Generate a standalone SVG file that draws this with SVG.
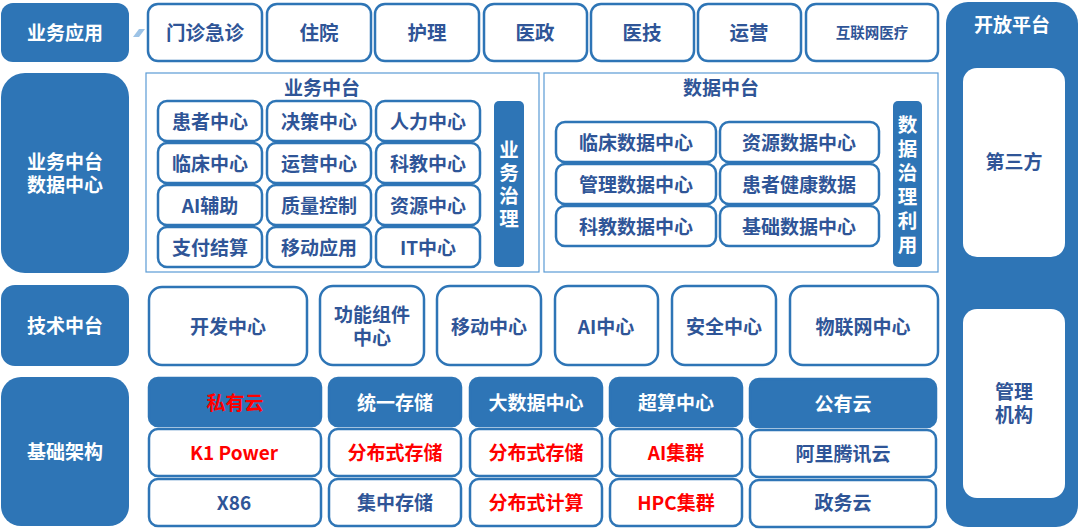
<svg xmlns="http://www.w3.org/2000/svg" width="1080" height="530" viewBox="0 0 1080 530">
<style>
text{font-family:"Noto Sans CJK SC","Noto Sans",sans-serif;font-weight:bold;text-anchor:middle;dominant-baseline:central;transform:translateY(-1.5px)}
text.ml{font-family:"Liberation Sans","Noto Sans CJK SC",sans-serif;transform:translateY(0.2px)}
.cat{fill:#2E75B6}
.catT{fill:#fff;font-size:19px}
.box{fill:#fff;stroke:#2E75B6;stroke-width:2.5}
.hdr{fill:#2E75B6;stroke:#2E75B6;stroke-width:2.5}
.bt{fill:#2F5597;font-size:19.5px}
.st{fill:#2F5597;font-size:19px}
.rt{fill:#FF0000;font-size:19px}
.wt{fill:#fff;font-size:19px}
.panel{fill:#fff;stroke:#5B9BD5;stroke-width:1.2}
.pt{fill:#2F5597;font-size:19px}
.vbar{fill:#2E75B6}
.vt{fill:#fff;font-size:19.5px;writing-mode:vertical-rl;transform:none}
</style>
<rect width="1080" height="530" fill="#fff"/>

<g id="connectors">
<polygon points="133,37 139,29 145,29 139,37" fill="#9DC3E6"/>
</g>

<!-- left categories -->
<g id="cat-app"><rect class="cat" x="1" y="3" width="128" height="59" rx="12"/><text class="catT" x="65" y="33">业务应用</text></g>
<g id="cat-mid"><rect class="cat" x="1" y="73" width="128" height="200" rx="24"/><text class="catT ml" x="65" y="162">业务中台</text><text class="catT ml" x="65" y="185">数据中心</text></g>
<g id="cat-tech"><rect class="cat" x="1" y="285" width="128" height="81" rx="14"/><text class="catT" x="65" y="326">技术中台</text></g>
<g id="cat-infra"><rect class="cat" x="1" y="377" width="128" height="149" rx="20"/><text class="catT" x="65" y="452">基础架构</text></g>

<!-- top row -->
<g id="app-1"><rect class="box" x="148" y="4" width="114" height="57" rx="10"/><text class="bt" x="205" y="33">门诊急诊</text></g>
<g id="app-2"><rect class="box" x="267" y="4" width="104" height="57" rx="10"/><text class="bt" x="319" y="33">住院</text></g>
<g id="app-3"><rect class="box" x="375" y="4" width="104" height="57" rx="10"/><text class="bt" x="427" y="33">护理</text></g>
<g id="app-4"><rect class="box" x="484" y="4" width="103" height="57" rx="10"/><text class="bt" x="535" y="33">医政</text></g>
<g id="app-5"><rect class="box" x="591" y="4" width="103" height="57" rx="10"/><text class="bt" x="642" y="33">医技</text></g>
<g id="app-6"><rect class="box" x="698" y="4" width="103" height="57" rx="10"/><text class="bt" x="749" y="33">运营</text></g>
<g id="app-7"><rect class="box" x="806" y="4" width="132" height="57" rx="10"/><text class="bt" x="872" y="33" style="font-size:14.5px">互联网医疗</text></g>

<!-- business middle platform -->
<g id="biz-panel">
<rect class="panel" x="146" y="73" width="393" height="199"/>
<text class="pt" x="322" y="88">业务中台</text>
</g>
<g id="biz-1"><rect class="box" x="158" y="101" width="104" height="40" rx="9"/><text class="st" x="210" y="122">患者中心</text></g>
<g id="biz-2"><rect class="box" x="267" y="101" width="104" height="40" rx="9"/><text class="st" x="319" y="122">决策中心</text></g>
<g id="biz-3"><rect class="box" x="376" y="101" width="104" height="40" rx="9"/><text class="st" x="428" y="122">人力中心</text></g>
<g id="biz-4"><rect class="box" x="158" y="143" width="104" height="40" rx="9"/><text class="st" x="210" y="164">临床中心</text></g>
<g id="biz-5"><rect class="box" x="267" y="143" width="104" height="40" rx="9"/><text class="st" x="319" y="164">运营中心</text></g>
<g id="biz-6"><rect class="box" x="376" y="143" width="104" height="40" rx="9"/><text class="st" x="428" y="164">科教中心</text></g>
<g id="biz-7"><rect class="box" x="158" y="185" width="104" height="40" rx="9"/><text class="st" x="210" y="206">AI辅助</text></g>
<g id="biz-8"><rect class="box" x="267" y="185" width="104" height="40" rx="9"/><text class="st" x="319" y="206">质量控制</text></g>
<g id="biz-9"><rect class="box" x="376" y="185" width="104" height="40" rx="9"/><text class="st" x="428" y="206">资源中心</text></g>
<g id="biz-10"><rect class="box" x="158" y="227" width="104" height="40" rx="9"/><text class="st" x="210" y="248">支付结算</text></g>
<g id="biz-11"><rect class="box" x="267" y="227" width="104" height="40" rx="9"/><text class="st" x="319" y="248">移动应用</text></g>
<g id="biz-12"><rect class="box" x="376" y="227" width="104" height="40" rx="9"/><text class="st" x="428" y="248">IT中心</text></g>
<g id="biz-gov"><rect class="vbar" x="494" y="101" width="30" height="166" rx="5"/>
<text class="vt" x="509" y="186" style="letter-spacing:3.5px">业务治理</text></g>

<!-- data middle platform -->
<g id="data-panel">
<rect class="panel" x="544" y="73" width="394" height="199"/>
<text class="pt" x="721" y="88">数据中台</text>
</g>
<g id="data-1"><rect class="box" x="556" y="122" width="160" height="40" rx="9"/><text class="st" x="636" y="143">临床数据中心</text></g>
<g id="data-2"><rect class="box" x="720" y="122" width="159" height="40" rx="9"/><text class="st" x="799" y="143">资源数据中心</text></g>
<g id="data-3"><rect class="box" x="556" y="164" width="160" height="40" rx="9"/><text class="st" x="636" y="185">管理数据中心</text></g>
<g id="data-4"><rect class="box" x="720" y="164" width="159" height="40" rx="9"/><text class="st" x="799" y="185">患者健康数据</text></g>
<g id="data-5"><rect class="box" x="556" y="206" width="160" height="40" rx="9"/><text class="st" x="636" y="227">科教数据中心</text></g>
<g id="data-6"><rect class="box" x="720" y="206" width="159" height="40" rx="9"/><text class="st" x="799" y="227">基础数据中心</text></g>
<g id="data-gov"><rect class="vbar" x="893" y="101" width="29" height="166" rx="5"/>
<text class="vt" x="907.5" y="187" style="letter-spacing:4.5px">数据治理利用</text></g>

<!-- tech middle platform -->
<g id="tech-1"><rect class="box" x="149" y="287" width="158" height="78" rx="13"/><text class="st" x="228" y="327">开发中心</text></g>
<g id="tech-2"><rect class="box" x="320" y="286" width="104" height="79" rx="13"/><text class="st ml" x="372" y="315">功能组件</text><text class="st ml" x="372" y="338">中心</text></g>
<g id="tech-3"><rect class="box" x="437" y="286" width="104" height="79" rx="13"/><text class="st" x="489" y="327">移动中心</text></g>
<g id="tech-4"><rect class="box" x="555" y="286" width="103" height="79" rx="13"/><text class="st" x="606" y="327">AI中心</text></g>
<g id="tech-5"><rect class="box" x="672" y="286" width="104" height="79" rx="13"/><text class="st" x="724" y="327">安全中心</text></g>
<g id="tech-6"><rect class="box" x="790" y="286" width="148" height="79" rx="13"/><text class="st" x="863" y="327">物联网中心</text></g>

<!-- infrastructure -->
<g id="inf-h1"><rect class="hdr" x="149" y="378" width="172" height="48" rx="9"/><text class="rt" x="235" y="403">私有云</text></g>
<g id="inf-h2"><rect class="hdr" x="329" y="378" width="132" height="48" rx="9"/><text class="wt" x="395" y="403">统一存储</text></g>
<g id="inf-h3"><rect class="hdr" x="470" y="378" width="132" height="48" rx="9"/><text class="wt" x="536" y="403">大数据中心</text></g>
<g id="inf-h4"><rect class="hdr" x="610" y="378" width="132" height="48" rx="9"/><text class="wt" x="676" y="403">超算中心</text></g>
<g id="inf-h5"><rect class="hdr" x="750" y="379" width="186" height="48" rx="9"/><text class="wt" x="843" y="404">公有云</text></g>

<g id="inf-a1"><rect class="box" x="149" y="429" width="172" height="47" rx="9"/><text class="rt" x="234" y="453">K1 Power</text></g>
<g id="inf-a2"><rect class="box" x="329" y="429" width="132" height="47" rx="9"/><text class="rt" x="395" y="453">分布式存储</text></g>
<g id="inf-a3"><rect class="box" x="470" y="429" width="132" height="47" rx="9"/><text class="rt" x="536" y="453">分布式存储</text></g>
<g id="inf-a4"><rect class="box" x="610" y="429" width="132" height="47" rx="9"/><text class="rt" x="676" y="453">AI集群</text></g>
<g id="inf-a5"><rect class="box" x="750" y="430" width="186" height="47" rx="9"/><text class="st" x="843" y="454">阿里腾讯云</text></g>

<g id="inf-b1"><rect class="box" x="149" y="479" width="172" height="47" rx="9"/><text class="st" x="234" y="503">X86</text></g>
<g id="inf-b2"><rect class="box" x="329" y="479" width="132" height="47" rx="9"/><text class="st" x="395" y="503">集中存储</text></g>
<g id="inf-b3"><rect class="box" x="470" y="479" width="132" height="47" rx="9"/><text class="rt" x="536" y="503">分布式计算</text></g>
<g id="inf-b4"><rect class="box" x="610" y="479" width="132" height="47" rx="9"/><text class="rt" x="676" y="503">HPC集群</text></g>
<g id="inf-b5"><rect class="box" x="750" y="480" width="186" height="47" rx="9"/><text class="st" x="843" y="503">政务云</text></g>

<!-- open platform -->
<g id="open-platform"><rect class="cat" x="946" y="2" width="132" height="525" rx="22"/><text class="catT" x="1012" y="25">开放平台</text></g>
<g id="third-party"><rect x="963" y="68" width="102" height="189" rx="14" fill="#fff"/><text class="st" x="1014" y="162">第三方</text></g>
<g id="mgmt"><rect x="963" y="309" width="102" height="189" rx="14" fill="#fff"/><text class="st ml" x="1014" y="392">管理</text><text class="st ml" x="1014" y="415">机构</text></g>
</svg>
